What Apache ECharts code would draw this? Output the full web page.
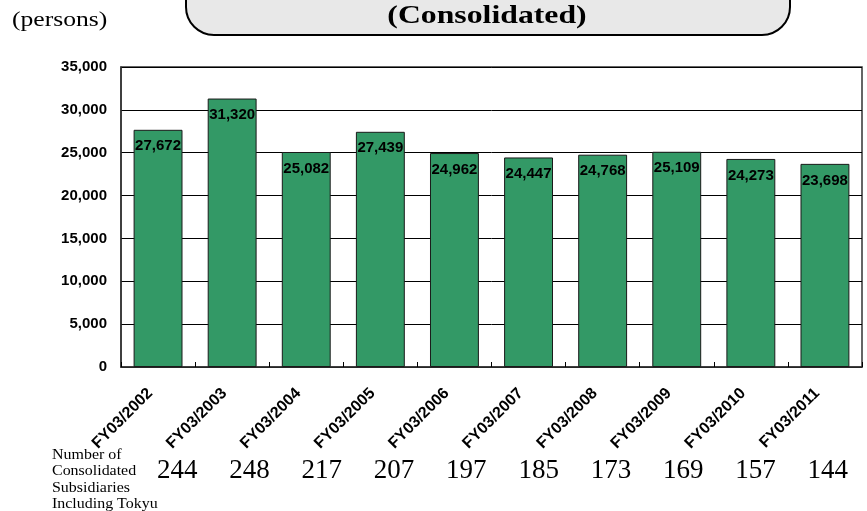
<!DOCTYPE html>
<html>
<head>
<meta charset="utf-8">
<script src="https://cdn.jsdelivr.net/npm/echarts@6/dist/echarts.min.js"></script>
<style>
  html, body { margin: 0; padding: 0; background: #ffffff; }
  #main { width: 867px; height: 511px; }
</style>
</head>
<body>
<div id="main"></div>
<script>
// Fiscal years shown on the category axis
const categories = ['FY03/2002', 'FY03/2003', 'FY03/2004', 'FY03/2005', 'FY03/2006',
                    'FY03/2007', 'FY03/2008', 'FY03/2009', 'FY03/2010', 'FY03/2011'];
// Employees (persons), consolidated
const employees = [27672, 31320, 25082, 27439, 24962, 24447, 24768, 25109, 24273, 23698];
// Number of consolidated subsidiaries including Tokyu
const subsidiaries = [244, 248, 217, 207, 197, 185, 173, 169, 157, 144];
// Value axis range
const yMin = 0;
const yMax = 35000;
const yStep = 5000;

const sansBold = '"Liberation Sans", Arial, sans-serif';
const serif = '"Liberation Serif", "Times New Roman", serif';
const fmt = v => Number(v).toLocaleString('en-US');

const chart = echarts.init(document.getElementById('main'), null, { renderer: 'canvas' });

chart.setOption({
  animation: false,
  backgroundColor: '#ffffff',
  grid: [
    { left: 121, top: 67, width: 741, height: 300, show: true,
      borderColor: '#333333', borderWidth: 1.5, backgroundColor: 'transparent' },
    { left: 141, top: 440, width: 723, height: 10 }
  ],
  xAxis: [
    {
      type: 'category', gridIndex: 0, data: categories,
      axisLine: { show: true, lineStyle: { color: '#333333', width: 1.5 } },
      axisTick: { show: true, inside: true, length: 5, lineStyle: { color: '#000000', width: 1 } },
      axisLabel: {
        rotate: 45, margin: 16, interval: 0, padding: [0, 11, 0, 0],
        fontFamily: sansBold, fontWeight: 'bold', fontSize: 16, color: '#000000'
      }
    },
    {
      type: 'category', gridIndex: 1,
      data: subsidiaries.map(String),
      axisLine: { show: false }, axisTick: { show: false },
      axisLabel: {
        interval: 0, margin: 21, verticalAlign: 'middle',
        fontFamily: serif, fontSize: 27, color: '#000000'
      }
    }
  ],
  yAxis: [
    {
      type: 'value', gridIndex: 0, min: yMin, max: yMax, interval: yStep,
      axisLine: { show: true, lineStyle: { color: '#333333', width: 1.5 } },
      axisTick: { show: false },
      splitLine: { show: true, lineStyle: { color: '#000000', width: 1 } },
      axisLabel: {
        margin: 14, formatter: fmt,
        fontFamily: sansBold, fontWeight: 'bold', fontSize: 15, color: '#000000'
      }
    },
    { type: 'value', gridIndex: 1, show: false }
  ],
  series: [
    {
      type: 'bar', xAxisIndex: 0, yAxisIndex: 0,
      data: employees,
      barWidth: '66%',
      itemStyle: { color: '#339966', borderColor: '#1a1a1a', borderWidth: 1 },
      label: {
        show: true, position: 'insideTop', distance: 9,
        formatter: p => fmt(p.value),
        fontFamily: sansBold, fontWeight: 'bold', fontSize: 15, color: '#000000'
      }
    }
  ],
  graphic: [
    {
      type: 'rect', z: 1,
      shape: { x: 186, y: -60, width: 604, height: 95, r: 28 },
      style: { fill: '#e8e8e8', stroke: '#000000', lineWidth: 2 }
    },
    {
      type: 'text', z: 2, x: 487, y: -11.5, scaleX: 1.27,
      style: { text: 'Changes in Number of Employees', font: 'bold 25px ' + serif, fill: '#000000',
               textAlign: 'center', align: 'center', textVerticalAlign: 'middle', verticalAlign: 'middle' }
    },
    {
      type: 'text', z: 2, x: 487, y: 17, scaleX: 1.27,
      style: { text: '(Consolidated)', font: 'bold 25px ' + serif, fill: '#000000',
               textAlign: 'center', align: 'center', textVerticalAlign: 'middle', verticalAlign: 'middle' }
    },
    {
      type: 'text', z: 2, x: 12, y: 20, scaleX: 1.22,
      style: { text: '(persons)', font: '21px ' + serif, fill: '#000000',
               textAlign: 'left', align: 'left', textVerticalAlign: 'middle', verticalAlign: 'middle' }
    },
    {
      type: 'text', z: 2, x: 52, y: 455, scaleX: 1.1,
      style: { text: 'Number of', font: '14.5px ' + serif, fill: '#000000',
               textAlign: 'left', align: 'left', textVerticalAlign: 'middle', verticalAlign: 'middle' }
    },
    {
      type: 'text', z: 2, x: 52, y: 471.5, scaleX: 1.1,
      style: { text: 'Consolidated', font: '14.5px ' + serif, fill: '#000000',
               textAlign: 'left', align: 'left', textVerticalAlign: 'middle', verticalAlign: 'middle' }
    },
    {
      type: 'text', z: 2, x: 52, y: 488, scaleX: 1.1,
      style: { text: 'Subsidiaries', font: '14.5px ' + serif, fill: '#000000',
               textAlign: 'left', align: 'left', textVerticalAlign: 'middle', verticalAlign: 'middle' }
    },
    {
      type: 'text', z: 2, x: 52, y: 504, scaleX: 1.1,
      style: { text: 'Including Tokyu', font: '14.5px ' + serif, fill: '#000000',
               textAlign: 'left', align: 'left', textVerticalAlign: 'middle', verticalAlign: 'middle' }
    }
  ]
});
</script>
</body>
</html>
